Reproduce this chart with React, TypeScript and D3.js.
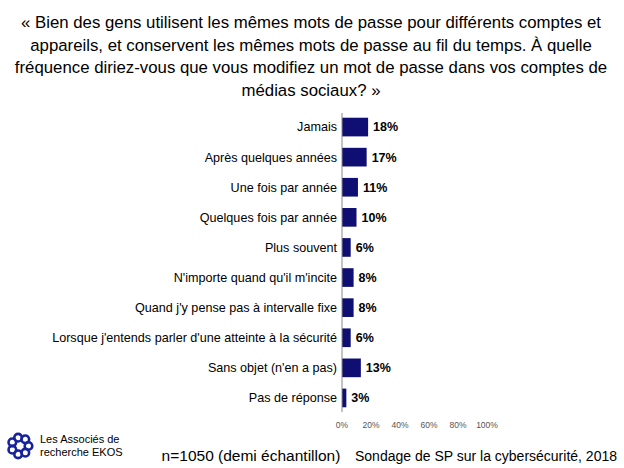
import React from "react";
import * as d3 from "d3";

const titleLines = [
  "« Bien des gens utilisent les mêmes mots de passe pour différents comptes et",
  "appareils, et conservent les mêmes mots de passe au fil du temps. À quelle",
  "fréquence diriez-vous que vous modifiez un mot de passe dans vos comptes de",
  "médias sociaux? »",
];

const categories = [
  "Jamais",
  "Après quelques années",
  "Une fois par année",
  "Quelques fois par année",
  "Plus souvent",
  "N'importe quand qu'il m'incite",
  "Quand j'y pense pas à intervalle fixe",
  "Lorsque j'entends parler d'une atteinte à la sécurité",
  "Sans objet (n'en a pas)",
  "Pas de réponse",
];

const values = [18, 17, 11, 10, 6, 8, 8, 6, 13, 3];
const ticks = [0, 20, 40, 60, 80, 100];

const FONT = "'Liberation Sans', Arial, sans-serif";

export default function App() {
  const W = 624;
  const H = 468;
  const x = d3.scaleLinear().domain([0, 100]).range([342, 487]);
  const y = d3
    .scaleBand()
    .domain(categories)
    .range([112, 413])
    .paddingInner(0.38)
    .paddingOuter(0.19);

  return (
    <svg
      width={W}
      height={H}
      style={{ position: "absolute", left: 0, top: 0, background: "#fff" }}
      fontFamily={FONT}
    >
      <rect width={W} height={H} fill="#fff" />
      {titleLines.map((t, i) => (
        <text
          key={i}
          x={311}
          y={28 + i * 22.7}
          textAnchor="middle"
          fontSize={16.8}
          fill="#000"
        >
          {t}
        </text>
      ))}
      {categories.map((c, i) => {
        const yc = (y(c) as number) + y.bandwidth() / 2;
        return (
          <g key={c}>
            <text x={337} y={yc} dy="0.35em" textAnchor="end" fontSize={12.6} fill="#000">
              {c}
            </text>
            <rect
              x={x(0)}
              y={y(c)}
              width={x(values[i]) - x(0)}
              height={y.bandwidth()}
              fill="#0f0f73"
            />
            <text
              x={x(values[i]) + 5}
              y={yc}
              dy="0.35em"
              fontSize={12.5}
              fontWeight="bold"
              fill="#000"
            >
              {values[i]}%
            </text>
          </g>
        );
      })}
      <line x1={342} x2={342} y1={113} y2={412} stroke="#888" strokeWidth={1} />
      {ticks.map((t) => (
        <text
          key={t}
          x={x(t)}
          y={428}
          textAnchor="middle"
          fontSize={8.5}
          fill="#555"
        >
          {t}%
        </text>
      ))}
      {/* logo */}
      <g transform="translate(20,446)">
        {d3.range(7).map((k) => {
          const a = (k / 7) * Math.PI * 2;
          return (
            <circle
              key={k}
              cx={Math.cos(a) * 8.5}
              cy={Math.sin(a) * 8.5}
              r={3.8}
              fill="none"
              stroke="#16239a"
              strokeWidth={2.6}
            />
          );
        })}
      </g>
      <text x={40} y={443} fontSize={11} fill="#000">Les Associés de</text>
      <text x={40} y={456} fontSize={11} fill="#000">recherche EKOS</text>
      <text x={251} y={461} textAnchor="middle" fontSize={15.5} fill="#000">
        n=1050 (demi échantillon)
      </text>
      <text x={617} y={461} textAnchor="end" fontSize={14} fill="#000">
        Sondage de SP sur la cybersécurité, 2018
      </text>
    </svg>
  );
}
